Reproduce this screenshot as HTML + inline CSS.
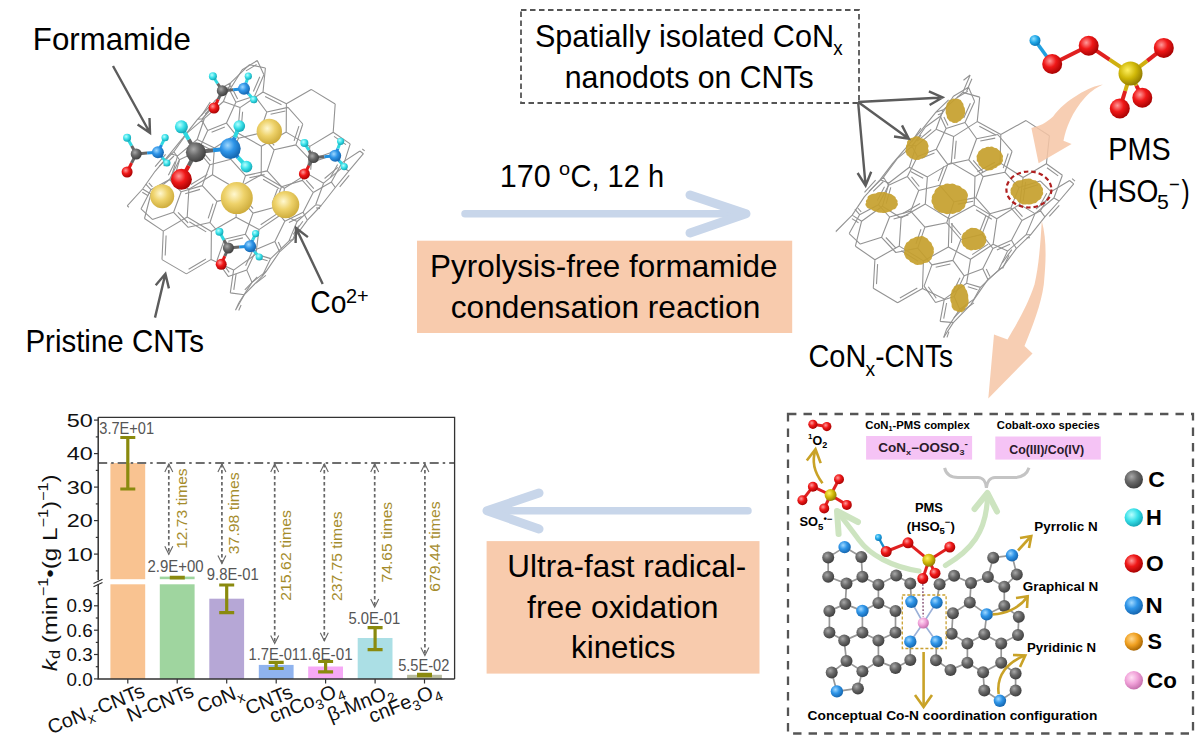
<!DOCTYPE html>
<html><head><meta charset="utf-8"><style>
html,body{margin:0;padding:0;background:#fff;}
svg{display:block;}
text{font-family:"Liberation Sans", sans-serif;}
</style></head><body>
<svg width="1204" height="746" viewBox="0 0 1204 746">
<defs>
<radialGradient id="gC" cx="0.38" cy="0.35" r="0.7"><stop offset="0" stop-color="#a8a8a8"/><stop offset="0.45" stop-color="#6a6a6a"/><stop offset="1" stop-color="#3a3a3a"/></radialGradient>
<radialGradient id="gN" cx="0.38" cy="0.35" r="0.7"><stop offset="0" stop-color="#9fd8ff"/><stop offset="0.45" stop-color="#2f95e8"/><stop offset="1" stop-color="#1260a8"/></radialGradient>
<radialGradient id="gO" cx="0.38" cy="0.35" r="0.7"><stop offset="0" stop-color="#ff9a9a"/><stop offset="0.45" stop-color="#f01818"/><stop offset="1" stop-color="#a00000"/></radialGradient>
<radialGradient id="gS" cx="0.38" cy="0.35" r="0.7"><stop offset="0" stop-color="#fff060"/><stop offset="0.5" stop-color="#d0b808"/><stop offset="1" stop-color="#8a7400"/></radialGradient>
<radialGradient id="gSo" cx="0.38" cy="0.35" r="0.7"><stop offset="0" stop-color="#ffd890"/><stop offset="0.5" stop-color="#f0a020"/><stop offset="1" stop-color="#a06000"/></radialGradient>
<radialGradient id="gH" cx="0.38" cy="0.35" r="0.7"><stop offset="0" stop-color="#b8ffff"/><stop offset="0.5" stop-color="#38e0e8"/><stop offset="1" stop-color="#10a0b0"/></radialGradient>
<radialGradient id="gHb" cx="0.38" cy="0.35" r="0.7"><stop offset="0" stop-color="#90e0ff"/><stop offset="0.5" stop-color="#20a8e8"/><stop offset="1" stop-color="#0870b0"/></radialGradient>
<radialGradient id="gCo" cx="0.38" cy="0.35" r="0.7"><stop offset="0" stop-color="#ffe0f4"/><stop offset="0.5" stop-color="#f0a0d8"/><stop offset="1" stop-color="#c06aa8"/></radialGradient>
<radialGradient id="gAu" cx="0.42" cy="0.38" r="0.68"><stop offset="0" stop-color="#fff8d0"/><stop offset="0.45" stop-color="#eed26a"/><stop offset="1" stop-color="#c9a634"/></radialGradient>
</defs>
<rect width="1204" height="746" fill="#fff"/>
<path d="M159.4,166.1L173.9,151.7M163.7,166.0L173.9,156.0M150.9,189.7L145.8,184.1M152.4,186.9L148.8,182.9M150.9,189.7L141.0,208.9M150.9,189.7L169.6,179.5M152.4,219.4L141.0,208.9M152.4,219.4L173.6,212.3M187.2,132.9L173.9,151.7M187.2,132.9L201.9,120.3M179.4,159.7L173.9,151.7M179.4,159.7L169.6,179.5M175.3,161.4L168.4,175.2M179.4,159.7L198.2,151.0M181.2,191.8L169.6,179.5M181.2,191.8L173.6,212.3M181.2,191.8L202.3,185.6M185.2,193.7L200.0,189.4M188.2,227.3L173.6,212.3M188.2,223.0L178.0,212.4M188.2,227.3L210.0,222.5M214.8,100.8L201.9,120.3M210.3,102.0L201.3,115.8M214.8,100.8L229.6,90.0M207.7,130.6L201.9,120.3M207.7,130.6L198.2,151.0M207.7,130.6L226.5,123.1M211.6,132.3L224.8,127.0M209.9,164.8L198.2,151.0M210.4,160.8L202.2,151.1M209.9,164.8L202.3,185.6M209.9,164.8L230.9,159.3M216.9,201.4L202.3,185.6M216.9,201.4L210.0,222.5M213.0,203.7L208.2,218.4M216.9,201.4L238.6,196.8M224.5,239.2L210.0,222.5M224.5,239.2L217.0,260.5M224.5,239.2L245.3,234.2M228.3,241.3L242.9,237.9M228.4,276.6L217.0,260.5M229.2,272.4L221.1,261.1M228.4,276.6L246.8,270.1M242.2,69.7L229.6,90.0M242.2,69.7L257.3,60.5M246.0,70.9L256.6,64.5M235.9,102.3L229.6,90.0M237.6,99.1L233.3,90.5M235.9,102.3L226.5,123.1M235.9,102.3L254.7,95.9M238.4,138.2L226.5,123.1M238.4,138.2L230.9,159.3M234.4,140.4L229.2,155.1M238.4,138.2L259.5,133.3M245.5,175.6L230.9,159.3M245.5,175.6L238.6,196.8M245.5,175.6L267.2,170.9M249.4,177.8L264.6,174.6M253.0,213.1L238.6,196.8M253.1,208.7L243.0,197.2M253.0,213.1L245.3,234.2M253.0,213.1L273.8,207.5M256.6,249.2L245.3,234.2M256.6,249.2L246.8,270.1M252.4,251.1L245.6,265.7M256.6,249.2L274.9,241.6M252.0,282.4L246.8,270.1M252.0,282.4L238.9,302.7M252.0,282.4L266.2,271.4M256.0,283.1L265.9,275.4M263.9,74.7L257.3,60.5M263.9,74.7L254.7,95.9M259.8,76.7L253.4,91.5M266.8,112.0L254.7,95.9M266.8,112.0L259.5,133.3M266.8,112.0L288.0,107.4M270.6,114.3L285.4,111.0M274.1,149.8L259.5,133.3M274.2,145.3L263.9,133.8M274.1,149.8L267.2,170.9M274.1,149.8L295.9,144.9M281.5,186.7L267.2,170.9M281.5,186.7L273.8,207.5M277.6,188.8L272.1,203.4M281.5,186.7L302.4,180.4M284.8,221.2L273.8,207.5M284.8,221.2L274.9,241.6M284.8,221.2L303.1,212.3M288.9,222.6L301.6,216.4M279.6,251.8L274.9,241.6M281.6,249.0L278.3,241.9M279.6,251.8L266.2,271.4M279.6,251.8L293.6,239.0M302.8,124.0L288.0,107.4M302.8,124.0L295.9,144.9M298.9,126.2L294.1,140.9M310.2,159.9L295.9,144.9M310.2,159.9L302.4,180.4M310.2,159.9L331.1,152.6M314.3,161.6L328.9,156.6M313.2,192.5L302.4,180.4M313.8,188.7L306.2,180.2M313.2,192.5L303.1,212.3M313.2,192.5L331.4,182.1M307.4,220.2L303.1,212.3M307.4,220.2L293.6,239.0M302.9,221.2L293.3,234.4M341.8,162.9L331.1,152.6M341.8,162.9L331.4,182.1M337.6,164.4L330.3,177.8M341.8,162.9L359.9,151.0M335.3,187.5L331.4,182.1M363.4,153.7L359.9,151.0M364.7,150.9L362.3,149.0" fill="none" stroke="#939393" stroke-width="1.1"/>
<path d="M235.5,310.3L238.9,302.7M238.7,310.4L241.1,305.1M235.5,310.3L244.3,294.7M262.1,276.3L266.2,271.4M262.1,276.3L244.3,294.7M257.3,277.0L244.8,289.8M262.1,276.3L270.7,258.6M230.3,292.9L244.3,294.7M230.3,292.9L233.6,270.1M233.8,289.9L236.1,273.9M307.4,220.2L321.2,205.5M288.9,241.1L293.6,239.0M288.9,241.1L270.7,258.6M288.9,241.1L297.1,221.5M292.9,239.3L298.6,225.6M255.9,254.1L270.7,258.6M257.3,257.7L267.6,260.8M255.9,254.1L233.6,270.1M255.9,254.1L259.0,229.6M211.1,259.4L233.6,270.1M211.1,259.4L186.4,273.9M205.9,259.0L188.6,269.2M211.1,259.4L211.4,231.5M162.0,259.6L186.4,273.9M162.0,259.6L163.3,231.1M165.2,255.5L166.1,235.5M335.3,187.5L321.2,205.5M335.3,187.5L348.9,170.9M339.7,186.9L349.2,175.3M315.7,204.8L321.2,205.5M316.2,207.9L320.0,208.4M315.7,204.8L297.1,221.5M315.7,204.8L323.6,183.2M281.6,214.3L297.1,221.5M281.6,214.3L259.0,229.6M276.6,214.1L260.7,224.8M281.6,214.3L284.4,188.3M236.1,217.2L259.0,229.6M236.1,217.2L211.4,231.5M236.1,217.2L236.4,188.8M239.2,213.0L239.4,193.1M187.2,217.0L211.4,231.5M189.3,221.8L206.2,231.9M187.2,217.0L163.3,231.1M187.2,217.0L188.9,189.3M144.5,218.5L163.3,231.1M144.5,218.5L150.9,194.0M363.4,153.7L348.9,170.9M342.7,167.4L348.9,170.9M342.7,167.4L323.6,183.2M337.9,167.4L324.6,178.5M342.7,167.4L350.2,143.9M307.4,173.6L323.6,183.2M307.4,173.6L284.4,188.3M307.4,173.6L309.8,146.4M310.7,169.8L312.4,150.8M261.2,174.7L284.4,188.3M263.1,179.3L279.4,188.8M261.2,174.7L236.4,188.8M261.2,174.7L261.4,146.2M212.5,174.8L236.4,188.8M212.5,174.8L188.9,189.3M207.4,174.4L190.9,184.5M212.5,174.8L214.4,148.0M170.9,178.5L188.9,189.3M170.9,178.5L150.9,194.0M170.9,178.5L177.6,155.8M174.8,176.0L179.5,160.1M142.6,189.0L150.9,194.0M142.3,192.3L148.1,195.8M142.6,189.0L127.2,205.9M142.6,189.0L155.1,171.3M128.9,207.2L127.2,205.9M333.2,132.2L350.2,143.9M334.0,136.4L346.0,144.6M333.2,132.2L309.8,146.4M333.2,132.2L335.2,104.0M286.2,132.1L309.8,146.4M286.2,132.1L261.4,146.2M281.0,131.6L263.6,141.5M286.2,132.1L286.4,103.8M237.7,133.1L261.4,146.2M237.7,133.1L214.4,148.0M237.7,133.1L240.0,107.6M241.1,129.5L242.6,111.7M197.2,139.5L214.4,148.0M198.4,143.5L210.5,149.4M197.2,139.5L177.6,155.8M197.2,139.5L204.3,118.7M170.1,153.6L177.6,155.8M170.1,153.6L155.1,171.3M165.6,154.3L155.1,166.7M170.1,153.6L182.9,137.9M311.2,89.4L335.2,104.0M311.2,89.4L286.4,103.8M263.0,92.0L286.4,103.8M265.1,96.4L281.5,104.7M263.0,92.0L240.0,107.6M263.0,92.0L265.4,68.0M223.4,101.5L240.0,107.6M223.4,101.5L204.3,118.7M218.5,101.9L205.1,113.9M223.4,101.5L230.8,82.7M197.5,119.3L204.3,118.7M197.5,119.3L182.9,137.9M197.5,119.3L210.5,105.5M201.6,119.3L210.7,109.6M249.5,64.7L265.4,68.0M249.5,64.7L230.8,82.7M224.7,86.2L230.8,82.7M227.1,88.2L231.4,85.8" fill="none" stroke="#939393" stroke-width="1.1"/>
<path d="M868.9,191.4L883.5,177.2M873.2,191.4L883.4,181.5M859.6,214.7L854.9,209.2M861.2,211.9L857.8,208.0M859.6,214.7L849.2,233.6M859.6,214.7L878.4,204.7M860.3,244.1L849.2,233.6M860.3,244.1L881.6,237.3M897.2,158.6L883.5,177.2M897.2,158.6L912.0,146.3M888.6,185.2L883.5,177.2M888.6,185.2L878.4,204.7M884.5,186.7L877.3,200.4M888.6,185.2L907.4,176.6M889.6,217.0L878.4,204.7M889.6,217.0L881.6,237.3M889.6,217.0L910.7,211.1M893.6,219.0L908.4,214.9M895.8,252.5L881.6,237.3M895.9,248.2L885.9,237.5M895.8,252.5L917.7,248.1M925.4,127.0L912.0,146.3M920.9,128.1L911.6,141.7M925.4,127.0L940.3,116.3M917.5,156.5L912.0,146.3M917.5,156.5L907.4,176.6M917.5,156.5L936.3,149.2M921.4,158.2L934.5,153.1M918.7,190.5L907.4,176.6M919.3,186.5L911.5,176.8M918.7,190.5L910.7,211.1M918.7,190.5L939.8,185.3M924.9,227.1L910.7,211.1M924.9,227.1L917.7,248.1M921.0,229.3L915.9,243.9M924.9,227.1L946.7,222.8M931.9,264.9L917.7,248.1M931.9,264.9L924.1,286.1M931.9,264.9L952.9,260.4M935.7,267.2L950.4,264.0M935.5,302.5L924.1,286.1M936.3,298.3L928.3,286.8M935.5,302.5L954.2,296.6M953.4,96.3L940.3,116.3M953.4,96.3L968.5,87.3M957.2,97.5L967.7,91.2M946.1,128.6L940.3,116.3M948.0,125.5L943.9,116.9M946.1,128.6L936.3,149.2M946.1,128.6L965.0,122.5M947.7,164.4L936.3,149.2M947.7,164.4L939.8,185.3M943.7,166.5L938.2,181.1M947.7,164.4L968.8,159.8M954.0,201.8L939.8,185.3M954.0,201.8L946.7,222.8M954.0,201.8L975.8,197.6M957.8,204.1L973.1,201.2M960.9,239.5L946.7,222.8M961.0,235.0L951.1,223.4M960.9,239.5L952.9,260.4M960.9,239.5L981.9,234.4M964.2,275.8L952.9,260.4M964.2,275.8L954.2,296.6M960.0,277.7L953.0,292.2M964.2,275.8L982.8,268.8M959.7,309.3L954.2,296.6M959.7,309.3L946.5,329.4M959.7,309.3L974.4,298.9M963.6,310.2L974.0,302.9M943.7,337.5L946.5,329.4M947.0,337.3L948.9,331.6M974.6,101.4L968.5,87.3M974.6,101.4L965.0,122.5M970.4,103.3L963.7,118.1M976.6,138.7L965.0,122.5M976.6,138.7L968.8,159.8M976.6,138.7L997.7,134.5M980.3,141.0L995.2,138.1M983.1,176.6L968.8,159.8M983.2,172.1L973.2,160.4M983.1,176.6L975.8,197.6M983.1,176.6L1004.9,172.2M989.9,213.7L975.8,197.6M989.9,213.7L981.9,234.4M985.9,215.7L980.3,230.2M989.9,213.7L1010.9,207.9M992.9,248.5L981.9,234.4M992.9,248.5L982.8,268.8M992.9,248.5L1011.5,240.2M996.9,250.0L1010.0,244.2M987.9,279.4L982.8,268.8M989.9,276.5L986.3,269.1M987.9,279.4L974.4,298.9M987.9,279.4L1002.5,267.4M1012.1,151.3L997.7,134.5M1012.1,151.3L1004.9,172.2M1008.2,153.5L1003.2,168.1M1019.0,187.6L1004.9,172.2M1019.0,187.6L1010.9,207.9M1019.0,187.6L1040.1,180.9M1023.1,189.4L1037.9,184.8M1021.9,220.5L1010.9,207.9M1022.5,216.7L1014.8,207.9M1021.9,220.5L1011.5,240.2M1021.9,220.5L1040.5,210.8M1016.3,248.6L1011.5,240.2M1016.3,248.6L1002.5,267.4M1011.8,249.7L1002.2,262.8M1016.3,248.6L1030.8,234.7M1051.0,191.7L1040.1,180.9M1051.0,191.7L1040.5,210.8M1046.8,193.2L1039.4,206.5M1051.0,191.7L1069.6,180.5M1044.9,216.8L1040.5,210.8M1073.7,183.9L1069.6,180.5M1075.0,181.1L1072.1,178.7" fill="none" stroke="#939393" stroke-width="1.1"/>
<path d="M943.7,337.5L953.3,322.6M971.0,304.4L974.4,298.9M971.0,304.4L953.3,322.6M966.2,305.0L953.8,317.8M971.0,304.4L980.4,287.4M940.1,321.4L953.3,322.6M940.1,321.4L944.3,299.1M943.7,318.6L946.6,303.0M998.5,270.1L1002.5,267.4M998.5,270.1L980.4,287.4M998.5,270.1L1007.6,251.1M1002.6,268.5L1009.0,255.2M966.6,283.3L980.4,287.4M967.8,286.8L977.5,289.7M966.6,283.3L944.3,299.1M966.6,283.3L970.5,259.3M922.5,288.6L944.3,299.1M922.5,288.6L897.6,302.8M917.3,288.1L899.9,298.1M922.5,288.6L923.4,260.9M873.3,288.3L897.6,302.8M873.3,288.3L874.9,259.7M876.5,284.1L877.6,264.1M1044.9,216.8L1030.8,234.7M1044.9,216.8L1059.2,201.0M1049.3,216.4L1059.3,205.3M1026.2,234.6L1030.8,234.7M1026.8,237.6L1030.0,237.7M1026.2,234.6L1007.6,251.1M1026.2,234.6L1035.0,213.6M993.1,244.3L1007.6,251.1M993.1,244.3L970.5,259.3M988.1,244.1L972.2,254.6M993.1,244.3L996.8,218.8M948.4,247.0L970.5,259.3M948.4,247.0L923.4,260.9M948.4,247.0L949.2,218.8M951.5,242.9L952.1,223.1M899.3,246.1L923.4,260.9M901.3,250.8L918.2,261.2M899.3,246.1L874.9,259.7M899.3,246.1L901.1,218.0M855.4,246.2L874.9,259.7M855.4,246.2L861.6,221.2M1073.7,183.9L1059.2,201.0M1053.9,198.0L1059.2,201.0M1053.9,198.0L1035.0,213.6M1049.2,198.0L1035.9,209.0M1053.9,198.0L1062.4,175.2M1019.7,204.4L1035.0,213.6M1019.7,204.4L996.8,218.8M1019.7,204.4L1023.1,177.5M1023.2,200.7L1025.6,181.9M974.2,205.1L996.8,218.8M976.1,209.7L991.8,219.3M974.2,205.1L949.2,218.8M974.2,205.1L975.0,176.5M925.3,204.1L949.2,218.8M925.3,204.1L901.1,218.0M920.1,203.6L903.2,213.3M925.3,204.1L927.4,176.9M882.4,206.3L901.1,218.0M882.4,206.3L861.6,221.2M882.4,206.3L888.9,183.0M886.2,203.6L890.8,187.3M852.2,215.1L861.6,221.2M851.9,218.6L858.5,222.8M852.2,215.1L835.9,231.5M852.2,215.1L864.3,196.9M836.4,231.9L835.9,231.5M1046.4,163.7L1062.4,175.2M1047.0,167.8L1058.2,175.9M1046.4,163.7L1023.1,177.5M1046.4,163.7L1049.4,135.8M1000.1,162.9L1023.1,177.5M1000.1,162.9L975.0,176.5M994.9,162.3L977.4,171.8M1000.1,162.9L1000.8,134.4M951.3,162.6L975.0,176.5M951.3,162.6L927.4,176.9M951.3,162.6L953.6,136.6M954.6,158.9L956.2,140.8M909.3,167.3L927.4,176.9M910.6,171.4L923.2,178.2M909.3,167.3L888.9,183.0M909.3,167.3L916.1,145.9M880.2,179.7L888.9,183.0M880.2,179.7L864.3,196.9M875.6,180.2L864.5,192.3M880.2,179.7L892.6,163.4M1026.0,120.6L1049.4,135.8M1026.0,120.6L1000.8,134.4M977.2,121.6L1000.8,134.4M979.3,126.2L995.9,135.1M977.2,121.6L953.6,136.6M977.2,121.6L979.7,97.1M936.1,129.3L953.6,136.6M936.1,129.3L916.1,145.9M931.2,129.5L917.2,141.1M936.1,129.3L943.2,109.8M908.1,145.4L916.1,145.9M908.1,145.4L892.6,163.4M908.1,145.4L920.7,131.1M912.3,145.2L921.1,135.2M962.8,92.4L979.7,97.1M962.8,92.4L943.2,109.8M962.8,92.4L970.2,75.0M966.7,91.0L971.9,78.8M935.9,112.2L943.2,109.8M937.9,114.7L943.0,113.1M935.9,112.2L920.7,131.1M935.9,112.2L948.6,99.8M963.5,80.2L970.2,75.0" fill="none" stroke="#939393" stroke-width="1.1"/>
<circle cx="269.3" cy="131.5" r="12.7" fill="url(#gAu)"/>
<circle cx="162.2" cy="196.3" r="12" fill="url(#gAu)"/>
<circle cx="236.8" cy="198.1" r="16" fill="url(#gAu)"/>
<circle cx="285.6" cy="204.6" r="13.7" fill="url(#gAu)"/>
<path d="M222.3,90.7L218.2,99.3" stroke="#666" stroke-width="3"/>
<path d="M218.2,99.3L214.0,108.0" stroke="#e01818" stroke-width="3"/>
<path d="M222.3,90.7L233.2,89.8" stroke="#666" stroke-width="3"/>
<path d="M233.2,89.8L244.0,88.8" stroke="#2090e0" stroke-width="3"/>
<path d="M222.3,90.7L217.6,83.5" stroke="#666" stroke-width="3"/>
<path d="M217.6,83.5L212.9,76.2" stroke="#30d8e0" stroke-width="3"/>
<path d="M244.0,88.8L246.2,82.5" stroke="#2090e0" stroke-width="3"/>
<path d="M246.2,82.5L248.3,76.2" stroke="#30d8e0" stroke-width="3"/>
<path d="M244.0,88.8L248.9,94.2" stroke="#2090e0" stroke-width="3"/>
<path d="M248.9,94.2L253.8,99.7" stroke="#30d8e0" stroke-width="3"/>
<circle cx="212.9" cy="76.2" r="4" fill="url(#gH)"/>
<circle cx="248.3" cy="76.2" r="3.6" fill="url(#gH)"/>
<circle cx="253.8" cy="99.7" r="3.6" fill="url(#gH)"/>
<circle cx="214.0" cy="108.0" r="5.5" fill="url(#gO)"/>
<circle cx="222.3" cy="90.7" r="5.5" fill="url(#gC)"/>
<circle cx="244.0" cy="88.8" r="6" fill="url(#gN)"/>
<path d="M136.2,154.0L131.6,163.0" stroke="#666" stroke-width="3"/>
<path d="M131.6,163.0L127.1,172.0" stroke="#e01818" stroke-width="3"/>
<path d="M136.2,154.0L147.1,153.1" stroke="#666" stroke-width="3"/>
<path d="M147.1,153.1L157.9,152.2" stroke="#2090e0" stroke-width="3"/>
<path d="M136.2,154.0L131.6,145.8" stroke="#666" stroke-width="3"/>
<path d="M131.6,145.8L127.1,137.7" stroke="#30d8e0" stroke-width="3"/>
<path d="M157.9,152.2L161.5,144.9" stroke="#2090e0" stroke-width="3"/>
<path d="M161.5,144.9L165.1,137.7" stroke="#30d8e0" stroke-width="3"/>
<path d="M157.9,152.2L162.4,157.6" stroke="#2090e0" stroke-width="3"/>
<path d="M162.4,157.6L166.9,163.0" stroke="#30d8e0" stroke-width="3"/>
<circle cx="127.1" cy="137.7" r="4" fill="url(#gH)"/>
<circle cx="165.1" cy="137.7" r="3.6" fill="url(#gH)"/>
<circle cx="166.9" cy="163.0" r="3.6" fill="url(#gH)"/>
<circle cx="127.1" cy="172.0" r="5.5" fill="url(#gO)"/>
<circle cx="136.2" cy="154.0" r="5.5" fill="url(#gC)"/>
<circle cx="157.9" cy="152.2" r="6" fill="url(#gN)"/>
<path d="M195.9,152.2L188.7,165.8" stroke="#666" stroke-width="4"/>
<path d="M188.7,165.8L181.4,179.3" stroke="#e01818" stroke-width="4"/>
<path d="M195.9,152.2L213.1,150.3" stroke="#666" stroke-width="4"/>
<path d="M213.1,150.3L230.2,148.5" stroke="#2090e0" stroke-width="4"/>
<path d="M195.9,152.2L188.7,139.5" stroke="#666" stroke-width="4"/>
<path d="M188.7,139.5L181.4,126.8" stroke="#30d8e0" stroke-width="4"/>
<path d="M230.2,148.5L234.8,137.3" stroke="#2090e0" stroke-width="4"/>
<path d="M234.8,137.3L239.3,126.1" stroke="#30d8e0" stroke-width="4"/>
<path d="M230.2,148.5L238.3,157.6" stroke="#2090e0" stroke-width="4"/>
<path d="M238.3,157.6L246.5,166.6" stroke="#30d8e0" stroke-width="4"/>
<circle cx="181.4" cy="126.8" r="6.5" fill="url(#gH)"/>
<circle cx="239.3" cy="126.1" r="5.8500000000000005" fill="url(#gH)"/>
<circle cx="246.5" cy="166.6" r="5.8500000000000005" fill="url(#gH)"/>
<circle cx="181.4" cy="179.3" r="10.5" fill="url(#gO)"/>
<circle cx="195.9" cy="152.2" r="10" fill="url(#gC)"/>
<circle cx="230.2" cy="148.5" r="10.5" fill="url(#gN)"/>
<path d="M313.5,157.6L308.9,165.8" stroke="#666" stroke-width="3"/>
<path d="M308.9,165.8L304.4,173.9" stroke="#e01818" stroke-width="3"/>
<path d="M313.5,157.6L324.4,156.7" stroke="#666" stroke-width="3"/>
<path d="M324.4,156.7L335.2,155.8" stroke="#2090e0" stroke-width="3"/>
<path d="M313.5,157.6L308.9,150.3" stroke="#666" stroke-width="3"/>
<path d="M308.9,150.3L304.4,143.1" stroke="#30d8e0" stroke-width="3"/>
<path d="M335.2,155.8L337.9,148.6" stroke="#2090e0" stroke-width="3"/>
<path d="M337.9,148.6L340.6,141.3" stroke="#30d8e0" stroke-width="3"/>
<path d="M335.2,155.8L339.7,161.2" stroke="#2090e0" stroke-width="3"/>
<path d="M339.7,161.2L344.2,166.6" stroke="#30d8e0" stroke-width="3"/>
<circle cx="304.4" cy="143.1" r="4" fill="url(#gH)"/>
<circle cx="340.6" cy="141.3" r="3.6" fill="url(#gH)"/>
<circle cx="344.2" cy="166.6" r="3.6" fill="url(#gH)"/>
<circle cx="304.4" cy="173.9" r="5.5" fill="url(#gO)"/>
<circle cx="313.5" cy="157.6" r="5.5" fill="url(#gC)"/>
<circle cx="335.2" cy="155.8" r="6" fill="url(#gN)"/>
<path d="M228.4,248.0L224.8,256.1" stroke="#666" stroke-width="3"/>
<path d="M224.8,256.1L221.2,264.3" stroke="#e01818" stroke-width="3"/>
<path d="M228.4,248.0L239.2,247.1" stroke="#666" stroke-width="3"/>
<path d="M239.2,247.1L250.1,246.2" stroke="#2090e0" stroke-width="3"/>
<path d="M228.4,248.0L223.9,239.9" stroke="#666" stroke-width="3"/>
<path d="M223.9,239.9L219.4,231.8" stroke="#30d8e0" stroke-width="3"/>
<path d="M250.1,246.2L252.8,239.9" stroke="#2090e0" stroke-width="3"/>
<path d="M252.8,239.9L255.6,233.6" stroke="#30d8e0" stroke-width="3"/>
<path d="M250.1,246.2L254.6,251.6" stroke="#2090e0" stroke-width="3"/>
<path d="M254.6,251.6L259.2,257.0" stroke="#30d8e0" stroke-width="3"/>
<circle cx="219.4" cy="231.8" r="4" fill="url(#gH)"/>
<circle cx="255.6" cy="233.6" r="3.6" fill="url(#gH)"/>
<circle cx="259.2" cy="257.0" r="3.6" fill="url(#gH)"/>
<circle cx="221.2" cy="264.3" r="5.5" fill="url(#gO)"/>
<circle cx="228.4" cy="248.0" r="5.5" fill="url(#gC)"/>
<circle cx="250.1" cy="246.2" r="6" fill="url(#gN)"/>
<path d="M965.1,110.7Q965.8,113.4 964.2,115.4Q964.0,118.1 961.9,119.1Q960.9,121.4 958.7,121.5Q957.2,123.5 955.2,122.7Q953.2,123.6 951.6,121.7Q949.3,121.8 948.3,119.5Q946.5,118.1 946.6,115.2Q945.1,113.2 945.7,110.7Q944.9,108.1 946.3,106.1Q946.3,103.1 948.2,101.8Q949.2,99.5 951.6,99.6Q953.2,97.9 955.2,99.0Q957.3,97.8 958.9,99.3Q961.1,99.5 962.0,102.1Q963.8,103.4 963.7,106.2Q965.5,108.2 965.1,110.7Z" fill="#c6a02c" fill-opacity="0.92"/>
<path d="M928.0,148.2Q929.4,150.8 928.1,152.8Q927.9,155.5 925.4,156.6Q924.1,158.7 921.3,158.5Q919.4,160.4 917.0,159.7Q914.6,160.6 912.6,158.8Q909.9,158.8 908.7,156.5Q906.2,155.4 906.0,152.8Q904.7,150.7 906.1,148.2Q905.3,145.9 907.0,144.0Q906.6,141.1 908.5,139.7Q909.8,137.6 912.6,137.7Q914.6,135.7 917.0,136.3Q919.3,136.0 921.1,138.2Q923.8,138.1 925.1,140.1Q927.6,141.1 927.9,143.7Q929.3,145.7 928.0,148.2Z" fill="#c6a02c" fill-opacity="0.92"/>
<path d="M1002.7,158.3Q1003.7,160.9 1001.7,162.9Q1001.0,165.2 997.9,166.0Q996.7,168.3 994.0,168.4Q992.0,170.7 989.5,170.3Q986.7,171.1 984.6,169.2Q981.7,169.1 980.5,166.6Q978.1,165.4 978.2,162.6Q976.1,160.7 976.8,158.3Q975.9,155.8 977.8,153.8Q978.0,151.2 980.6,150.1Q981.9,148.0 984.9,148.1Q986.9,146.2 989.5,146.9Q992.1,146.0 994.2,147.8Q997.2,147.8 998.6,150.0Q1001.4,151.0 1001.7,153.6Q1003.7,155.7 1002.7,158.3Z" fill="#c6a02c" fill-opacity="0.92"/>
<path d="M897.3,202.6Q898.8,204.8 896.7,206.4Q896.4,208.7 892.9,209.6Q891.5,211.7 888.0,212.0Q885.3,213.5 881.8,212.8Q878.5,213.2 876.0,211.4Q872.6,211.2 871.1,209.3Q867.2,208.6 866.4,206.6Q864.5,204.8 866.3,202.6Q865.1,200.5 867.5,198.9Q867.1,196.3 869.8,195.1Q871.7,193.2 875.7,193.4Q878.4,191.6 881.8,192.2Q885.2,191.6 887.9,193.4Q891.7,193.4 893.3,195.4Q896.2,196.5 896.0,198.9Q898.4,200.5 897.3,202.6Z" fill="#c6a02c" fill-opacity="0.92"/>
<path d="M966.9,198.8Q968.1,202.0 965.4,204.4Q965.5,208.0 962.2,209.6Q960.4,212.5 956.4,212.5Q953.6,214.7 950.0,213.5Q946.3,215.0 943.4,213.0Q939.0,213.2 937.0,210.3Q933.3,208.7 933.2,204.9Q930.5,202.2 931.9,198.8Q931.1,195.6 934.4,193.1Q934.3,189.4 937.6,187.8Q939.4,184.8 943.5,184.9Q946.4,182.7 950.0,183.9Q953.6,182.8 956.4,185.2Q960.3,185.2 962.0,188.2Q966.2,189.4 967.0,192.6Q969.0,195.3 966.9,198.8Z" fill="#c6a02c" fill-opacity="0.92"/>
<path d="M1042.7,191.3Q1044.1,194.1 1041.7,196.2Q1041.6,199.2 1038.3,200.5Q1036.9,203.2 1033.2,203.5Q1030.5,205.3 1027.0,204.2Q1023.5,205.3 1020.8,203.4Q1017.7,202.8 1016.7,199.6Q1013.2,198.6 1012.7,196.1Q1009.9,194.0 1010.7,191.3Q1009.7,188.6 1012.4,186.4Q1012.4,183.4 1015.5,182.0Q1017.4,179.9 1021.3,180.3Q1023.8,178.2 1027.0,178.8Q1030.2,178.1 1032.8,180.1Q1036.4,180.1 1038.0,182.4Q1041.3,183.6 1041.4,186.5Q1043.9,188.6 1042.7,191.3Z" fill="#c6a02c" fill-opacity="0.92"/>
<path d="M986.1,239.4Q987.1,241.8 985.2,243.8Q984.9,246.2 982.2,247.2Q980.9,249.3 978.2,249.3Q976.2,250.7 973.7,249.7Q971.1,251.0 969.0,249.8Q966.3,249.5 965.2,247.2Q962.6,246.2 962.3,243.7Q960.7,241.8 961.9,239.4Q960.7,237.0 962.3,235.1Q962.7,232.7 965.4,231.8Q966.4,229.3 968.9,228.9Q971.0,227.2 973.7,228.1Q976.2,227.4 978.2,229.3Q981.0,229.4 982.2,231.6Q984.8,232.6 985.0,235.1Q987.0,237.0 986.1,239.4Z" fill="#c6a02c" fill-opacity="0.92"/>
<path d="M933.6,250.6Q934.6,253.5 932.2,255.7Q932.4,259.1 929.7,260.7Q928.0,263.1 924.3,262.9Q921.9,265.3 918.9,264.7Q915.7,265.6 913.3,263.3Q910.1,263.0 908.9,260.0Q905.5,258.9 905.0,256.0Q903.2,253.6 904.7,250.6Q903.3,247.6 905.2,245.3Q905.6,242.4 908.8,241.2Q910.2,238.5 913.4,238.3Q915.8,235.9 918.9,236.7Q922.2,235.3 924.9,237.2Q927.9,237.8 929.0,241.1Q932.1,242.4 932.3,245.4Q934.6,247.7 933.6,250.6Z" fill="#c6a02c" fill-opacity="0.92"/>
<path d="M968.2,298.3Q969.3,301.5 968.3,304.0Q967.8,306.8 965.6,307.8Q964.9,311.0 963.0,311.6Q961.5,313.2 959.5,311.6Q957.6,312.8 956.2,310.8Q953.9,311.2 952.8,308.8Q951.2,307.1 951.5,303.5Q949.9,301.2 950.3,298.3Q949.7,295.3 951.2,293.0Q951.3,289.8 953.2,288.5Q954.0,285.5 956.1,285.4Q957.6,283.5 959.5,284.8Q961.5,283.2 963.1,284.9Q964.9,285.5 965.6,288.9Q967.4,290.1 967.5,293.1Q968.9,295.4 968.2,298.3Z" fill="#c6a02c" fill-opacity="0.92"/>
<ellipse cx="1028.9" cy="189.5" rx="22.5" ry="18" fill="none" stroke="#b02020" stroke-width="2.2" stroke-dasharray="4.5,3"/>
<path d="M1102.9,84.5 C1090,86 1065,100 1053.1,116.6 C1045,124 1040,126 1031.4,127.9 L1038.6,163.3 L1071.6,144 L1063.5,140.8 C1066,128 1072,112 1085.3,97.3 C1092,90 1098,87 1102.9,84.5 Z" fill="#f6c6a6" fill-opacity="0.85"/>
<path d="M1041.8,221.1 C1047,240 1046,262 1043.8,284.5 C1041,305 1033,325 1024.5,346 L1032.5,353.5 L988.3,398.6 L994,334.6 L1007.5,339.5 C1016,325 1028,305 1034.5,284.5 C1039,265 1040.5,242 1041.8,221.1 Z" fill="#f6c6a6" fill-opacity="0.85"/>
<path d="M1035,40.4L1052.2,64" stroke="#20a0e0" stroke-width="3.5"/>
<path d="M1052.2,64L1088.7,45.7" stroke="#e02020" stroke-width="4"/>
<path d="M1088.7,45.7L1109.6,59.6" stroke="#e02020" stroke-width="4"/>
<path d="M1109.6,59.6L1130.5,73.6" stroke="#d0b010" stroke-width="4"/>
<path d="M1130.5,73.6L1147.2,60.8" stroke="#d0b010" stroke-width="4"/>
<path d="M1147.2,60.8L1163.8,47.9" stroke="#e02020" stroke-width="4"/>
<path d="M1130.5,73.6L1125.2,91.0" stroke="#d0b010" stroke-width="4"/>
<path d="M1125.2,91.0L1119.8,108.5" stroke="#e02020" stroke-width="4"/>
<path d="M1130.5,73.6L1136.4,85.7" stroke="#d0b010" stroke-width="4"/>
<path d="M1136.4,85.7L1142.3,97.7" stroke="#e02020" stroke-width="4"/>
<circle cx="1035.0" cy="40.4" r="5.5" fill="url(#gHb)"/>
<circle cx="1052.2" cy="64.0" r="10" fill="url(#gO)"/>
<circle cx="1088.7" cy="45.7" r="10" fill="url(#gO)"/>
<circle cx="1163.8" cy="47.9" r="10" fill="url(#gO)"/>
<circle cx="1119.8" cy="108.5" r="10" fill="url(#gO)"/>
<circle cx="1142.3" cy="97.7" r="10" fill="url(#gO)"/>
<circle cx="1130.5" cy="73.6" r="12" fill="url(#gS)"/>
<rect x="417" y="240.7" width="375.2" height="92.3" fill="#f8cbad"/>
<rect x="486.6" y="541.1" width="272.9" height="132.5" fill="#f8cbad"/>
<rect x="521" y="10" width="338" height="93" fill="none" stroke="#555" stroke-width="1.8" stroke-dasharray="5.5,3.5"/>
<rect x="788" y="414" width="405" height="319.5" fill="none" stroke="#555" stroke-width="2.3" stroke-dasharray="8.4,7.1"/>
<path d="M465,213.8 L745,213.8" stroke="#c8d6ea" stroke-width="7.5" stroke-linecap="round"/>
<path d="M690,195 L746,213.8 L690,233" fill="none" stroke="#c8d6ea" stroke-width="9" stroke-linecap="round" stroke-linejoin="round"/>
<path d="M487,510.8 L748,510.8" stroke="#c8d6ea" stroke-width="7.5" stroke-linecap="round"/>
<path d="M539,493 L487,510.8 L539,529" fill="none" stroke="#c8d6ea" stroke-width="9" stroke-linecap="round" stroke-linejoin="round"/>
<text x="32.8" y="50.0" font-size="30.5" fill="#000" font-weight="normal" textLength="158.0" lengthAdjust="spacingAndGlyphs" >Formamide</text>
<text x="25.4" y="351.5" font-size="30.5" fill="#000" font-weight="normal" textLength="178.6" lengthAdjust="spacingAndGlyphs" >Pristine CNTs</text>
<text x="310.2" y="312.9" font-size="30.5" fill="#000" font-weight="normal" textLength="36.2" lengthAdjust="spacingAndGlyphs" >Co</text>
<text x="346.0" y="302.6" font-size="19.5" fill="#000" font-weight="normal" textLength="22.7" lengthAdjust="spacingAndGlyphs" >2+</text>
<text x="534.9" y="47.0" font-size="30.5" fill="#000" font-weight="normal" textLength="299.1" lengthAdjust="spacingAndGlyphs" >Spatially isolated CoN</text>
<text x="833.3" y="55.3" font-size="19.5" fill="#000" font-weight="normal" textLength="9.4" lengthAdjust="spacingAndGlyphs" >x</text>
<text x="564.8" y="88.2" font-size="30.5" fill="#000" font-weight="normal" textLength="248.9" lengthAdjust="spacingAndGlyphs" >nanodots on CNTs</text>
<text x="499.7" y="186.6" font-size="30.5" fill="#000" font-weight="normal" textLength="51.0" lengthAdjust="spacingAndGlyphs" >170</text>
<text x="558.9" y="175.3" font-size="18" fill="#000" font-weight="normal" textLength="11.1" lengthAdjust="spacingAndGlyphs" >o</text>
<text x="570.5" y="186.6" font-size="30.5" fill="#000" font-weight="normal" textLength="93.6" lengthAdjust="spacingAndGlyphs" >C, 12 h</text>
<text x="430.1" y="277.3" font-size="30.5" fill="#000" font-weight="normal" textLength="347.3" lengthAdjust="spacingAndGlyphs" >Pyrolysis-free formamide</text>
<text x="450.8" y="318.4" font-size="30.5" fill="#000" font-weight="normal" textLength="309.5" lengthAdjust="spacingAndGlyphs" >condensation reaction</text>
<text x="1108.3" y="160.2" font-size="30.5" fill="#000" font-weight="normal" textLength="62.3" lengthAdjust="spacingAndGlyphs" >PMS</text>
<text x="1088.1" y="201.5" font-size="30.5" fill="#000" font-weight="normal" textLength="70.3" lengthAdjust="spacingAndGlyphs" >(HSO</text>
<text x="1157.0" y="208.5" font-size="19.5" fill="#000" font-weight="normal" textLength="11.8" lengthAdjust="spacingAndGlyphs" >5</text>
<text x="1169.1" y="191.0" font-size="19.5" fill="#000" font-weight="normal" textLength="10.8" lengthAdjust="spacingAndGlyphs" >−</text>
<text x="1181.4" y="201.5" font-size="30.5" fill="#000" font-weight="normal" textLength="8.2" lengthAdjust="spacingAndGlyphs" >)</text>
<text x="808.5" y="366.5" font-size="30.5" fill="#000" font-weight="normal" textLength="57.8" lengthAdjust="spacingAndGlyphs" >CoN</text>
<text x="865.4" y="375.6" font-size="19.5" fill="#000" font-weight="normal" textLength="9.6" lengthAdjust="spacingAndGlyphs" >x</text>
<text x="875.3" y="366.5" font-size="30.5" fill="#000" font-weight="normal" textLength="77.7" lengthAdjust="spacingAndGlyphs" >-CNTs</text>
<text x="507.3" y="577.0" font-size="30.5" fill="#000" font-weight="normal" textLength="238.9" lengthAdjust="spacingAndGlyphs" >Ultra-fast radical-</text>
<text x="527.1" y="618.0" font-size="30.5" fill="#000" font-weight="normal" textLength="191.5" lengthAdjust="spacingAndGlyphs" >free oxidation</text>
<text x="571.1" y="658.3" font-size="30.5" fill="#000" font-weight="normal" textLength="104.3" lengthAdjust="spacingAndGlyphs" >kinetics</text>
<path d="M113.0,66.0 L150.0,133.0 M137.6,124.6 L150.0,133.0 L149.5,118.0" fill="none" stroke="#5c5c5c" stroke-width="2.4" stroke-linejoin="miter"/>
<path d="M155.0,317.6 L165.4,273.8 M168.9,288.4 L165.4,273.8 L155.7,285.2" fill="none" stroke="#5c5c5c" stroke-width="2.4" stroke-linejoin="miter"/>
<path d="M322.7,284.0 L296.0,228.0 M307.9,237.1 L296.0,228.0 L295.6,243.0" fill="none" stroke="#5c5c5c" stroke-width="2.4" stroke-linejoin="miter"/>
<path d="M858.1,102.0 L942.6,97.5 M929.6,105.0 L942.6,97.5 L928.9,91.4" fill="none" stroke="#5c5c5c" stroke-width="2.4" stroke-linejoin="miter"/>
<path d="M858.1,102.0 L908.8,138.8 M894.0,136.5 L908.8,138.8 L902.0,125.4" fill="none" stroke="#5c5c5c" stroke-width="2.4" stroke-linejoin="miter"/>
<path d="M858.1,102.0 L865.6,185.7 M857.6,173.0 L865.6,185.7 L871.2,171.8" fill="none" stroke="#5c5c5c" stroke-width="2.4" stroke-linejoin="miter"/>
<rect x="110.4" y="463" width="34.8" height="116.2" fill="#f9c391"/>
<rect x="110.4" y="584.3" width="34.8" height="94.7" fill="#f9c391"/>
<rect x="159.8" y="576.6" width="34.8" height="2.6" fill="#9fd59f"/>
<rect x="159.8" y="584.3" width="34.8" height="94.7" fill="#9fd59f"/>
<rect x="209.3" y="598.7" width="34.8" height="80.3" fill="#b6a7d6"/>
<rect x="258.8" y="664.9" width="34.8" height="14.1" fill="#8fb3ee"/>
<rect x="308.2" y="666.5" width="34.8" height="12.5" fill="#f6a9f6"/>
<rect x="357.7" y="638.0" width="34.8" height="41.0" fill="#abdfe5"/>
<rect x="407.1" y="674.8" width="34.8" height="4.2" fill="#b9bc9f"/>
<path d="M98.2,463 L454.6,463" stroke="#6e6e6e" stroke-width="2" stroke-dasharray="9,4,2.5,4"/>
<path d="M127.8,437.5 L127.8,489 M120.3,437.5 L135.3,437.5 M120.3,489 L135.3,489" stroke="#8a8a0e" stroke-width="3.2" fill="none"/>
<path d="M177.2,577.3 L177.2,577.9 M169.8,577.3 L184.8,577.3 M169.8,577.9 L184.8,577.9" stroke="#8a8a0e" stroke-width="3.2" fill="none"/>
<path d="M226.7,585 L226.7,612.6 M219.2,585 L234.2,585 M219.2,612.6 L234.2,612.6" stroke="#8a8a0e" stroke-width="3.2" fill="none"/>
<path d="M276.2,662.4 L276.2,668.5 M268.7,662.4 L283.7,662.4 M268.7,668.5 L283.7,668.5" stroke="#8a8a0e" stroke-width="3.2" fill="none"/>
<path d="M325.6,661.5 L325.6,671.8 M318.1,661.5 L333.1,661.5 M318.1,671.8 L333.1,671.8" stroke="#8a8a0e" stroke-width="3.2" fill="none"/>
<path d="M375.1,627.6 L375.1,649.7 M367.6,627.6 L382.6,627.6 M367.6,649.7 L382.6,649.7" stroke="#8a8a0e" stroke-width="3.2" fill="none"/>
<path d="M424.5,674.3 L424.5,675.6 M417.0,674.3 L432.0,674.3 M417.0,675.6 L432.0,675.6" stroke="#8a8a0e" stroke-width="3.2" fill="none"/>
<path d="M98.2,417.3 L454.6,417.3 L454.6,679.0" fill="none" stroke="#333" stroke-width="1.3"/>
<path d="M98.2,417.3 L98.2,679.0 L454.6,679.0" fill="none" stroke="#333" stroke-width="1.5"/>
<rect x="95" y="580.2" width="8" height="4" fill="#fff"/>
<path d="M93.5,583.5 L102.5,579.3 M93.5,586.7 L102.5,582.5" stroke="#333" stroke-width="1.2"/>
<path d="M94.0,554.1 L98.2,554.1" stroke="#333" stroke-width="1.2"/>
<text x="92.8" y="560.7" font-size="18.6" fill="#111" text-anchor="end" font-weight="normal" textLength="26.0" lengthAdjust="spacingAndGlyphs" >10</text>
<path d="M94.0,520.6 L98.2,520.6" stroke="#333" stroke-width="1.2"/>
<text x="92.8" y="527.2" font-size="18.6" fill="#111" text-anchor="end" font-weight="normal" textLength="26.0" lengthAdjust="spacingAndGlyphs" >20</text>
<path d="M94.0,487.1 L98.2,487.1" stroke="#333" stroke-width="1.2"/>
<text x="92.8" y="493.7" font-size="18.6" fill="#111" text-anchor="end" font-weight="normal" textLength="26.0" lengthAdjust="spacingAndGlyphs" >30</text>
<path d="M94.0,453.6 L98.2,453.6" stroke="#333" stroke-width="1.2"/>
<text x="92.8" y="460.2" font-size="18.6" fill="#111" text-anchor="end" font-weight="normal" textLength="26.0" lengthAdjust="spacingAndGlyphs" >40</text>
<path d="M94.0,420.1 L98.2,420.1" stroke="#333" stroke-width="1.2"/>
<text x="92.8" y="426.7" font-size="18.6" fill="#111" text-anchor="end" font-weight="normal" textLength="26.0" lengthAdjust="spacingAndGlyphs" >50</text>
<path d="M95.8,570.9 L98.2,570.9" stroke="#333" stroke-width="1.2"/>
<path d="M95.8,537.4 L98.2,537.4" stroke="#333" stroke-width="1.2"/>
<path d="M95.8,503.9 L98.2,503.9" stroke="#333" stroke-width="1.2"/>
<path d="M95.8,470.4 L98.2,470.4" stroke="#333" stroke-width="1.2"/>
<path d="M95.8,436.9 L98.2,436.9" stroke="#333" stroke-width="1.2"/>
<path d="M94.0,678.9 L98.2,678.9" stroke="#333" stroke-width="1.2"/>
<text x="92.8" y="685.5" font-size="18.6" fill="#111" text-anchor="end" font-weight="normal" textLength="26.2" lengthAdjust="spacingAndGlyphs" >0.0</text>
<path d="M94.0,654.5 L98.2,654.5" stroke="#333" stroke-width="1.2"/>
<text x="92.8" y="661.1" font-size="18.6" fill="#111" text-anchor="end" font-weight="normal" textLength="26.2" lengthAdjust="spacingAndGlyphs" >0.3</text>
<path d="M94.0,630.2 L98.2,630.2" stroke="#333" stroke-width="1.2"/>
<text x="92.8" y="636.8" font-size="18.6" fill="#111" text-anchor="end" font-weight="normal" textLength="26.2" lengthAdjust="spacingAndGlyphs" >0.6</text>
<path d="M94.0,605.8 L98.2,605.8" stroke="#333" stroke-width="1.2"/>
<text x="92.8" y="612.4" font-size="18.6" fill="#111" text-anchor="end" font-weight="normal" textLength="26.2" lengthAdjust="spacingAndGlyphs" >0.9</text>
<path d="M95.8,666.7 L98.2,666.7" stroke="#333" stroke-width="1.2"/>
<path d="M95.8,642.4 L98.2,642.4" stroke="#333" stroke-width="1.2"/>
<path d="M95.8,618.0 L98.2,618.0" stroke="#333" stroke-width="1.2"/>
<path d="M95.8,593.6 L98.2,593.6" stroke="#333" stroke-width="1.2"/>
<path d="M127.8,679.0 L127.8,683.5" stroke="#333" stroke-width="1.2"/>
<path d="M177.2,679.0 L177.2,683.5" stroke="#333" stroke-width="1.2"/>
<path d="M226.7,679.0 L226.7,683.5" stroke="#333" stroke-width="1.2"/>
<path d="M276.2,679.0 L276.2,683.5" stroke="#333" stroke-width="1.2"/>
<path d="M325.6,679.0 L325.6,683.5" stroke="#333" stroke-width="1.2"/>
<path d="M375.1,679.0 L375.1,683.5" stroke="#333" stroke-width="1.2"/>
<path d="M424.5,679.0 L424.5,683.5" stroke="#333" stroke-width="1.2"/>
<text x="99.3" y="434.3" font-size="16.2" fill="#555" text-anchor="start" font-weight="normal" textLength="54.7" lengthAdjust="spacingAndGlyphs" >3.7E+01</text>
<text x="147.5" y="571.6" font-size="16.2" fill="#555" text-anchor="start" font-weight="normal" textLength="56.1" lengthAdjust="spacingAndGlyphs" >2.9E+00</text>
<text x="206.8" y="579.5" font-size="16.2" fill="#555" text-anchor="start" font-weight="normal" textLength="51.9" lengthAdjust="spacingAndGlyphs" >9.8E-01</text>
<text x="248.5" y="660.2" font-size="16.2" fill="#555" text-anchor="start" font-weight="normal" textLength="51.5" lengthAdjust="spacingAndGlyphs" >1.7E-01</text>
<text x="299.3" y="660.2" font-size="16.2" fill="#555" text-anchor="start" font-weight="normal" textLength="53.3" lengthAdjust="spacingAndGlyphs" >1.6E-01</text>
<text x="348.5" y="623.7" font-size="16.2" fill="#555" text-anchor="start" font-weight="normal" textLength="51.7" lengthAdjust="spacingAndGlyphs" >5.0E-01</text>
<text x="398.2" y="671.2" font-size="16.2" fill="#555" text-anchor="start" font-weight="normal" textLength="51.1" lengthAdjust="spacingAndGlyphs" >5.5E-02</text>
<path d="M168.8,464 L168.8,554.2" stroke="#666" stroke-width="1.7" stroke-dasharray="3.6,2.4"/>
<path d="M164.8,472 L168.8,464 L172.8,472 M164.8,546.2 L168.8,554.2 L172.8,546.2" fill="none" stroke="#666" stroke-width="1.1"/>
<path d="M221.9,464 L221.9,563.6" stroke="#666" stroke-width="1.7" stroke-dasharray="3.6,2.4"/>
<path d="M217.9,472 L221.9,464 L225.9,472 M217.9,555.6 L221.9,563.6 L225.9,555.6" fill="none" stroke="#666" stroke-width="1.1"/>
<path d="M274.7,464 L274.7,643.6" stroke="#666" stroke-width="1.7" stroke-dasharray="3.6,2.4"/>
<path d="M270.7,472 L274.7,464 L278.7,472 M270.7,635.6 L274.7,643.6 L278.7,635.6" fill="none" stroke="#666" stroke-width="1.1"/>
<path d="M324.3,464 L324.3,640.8" stroke="#666" stroke-width="1.7" stroke-dasharray="3.6,2.4"/>
<path d="M320.3,472 L324.3,464 L328.3,472 M320.3,632.8 L324.3,640.8 L328.3,632.8" fill="none" stroke="#666" stroke-width="1.1"/>
<path d="M374.7,464 L374.7,607.0" stroke="#666" stroke-width="1.7" stroke-dasharray="3.6,2.4"/>
<path d="M370.7,472 L374.7,464 L378.7,472 M370.7,599.0 L374.7,607.0 L378.7,599.0" fill="none" stroke="#666" stroke-width="1.1"/>
<path d="M424.9,464 L424.9,655.5" stroke="#666" stroke-width="1.7" stroke-dasharray="3.6,2.4"/>
<path d="M420.9,472 L424.9,464 L428.9,472 M420.9,647.5 L424.9,655.5 L428.9,647.5" fill="none" stroke="#666" stroke-width="1.1"/>
<text transform="translate(187.2,548.8) rotate(-90)" x="0" y="0" font-size="15.5" fill="#a58c2c" textLength="80.4" lengthAdjust="spacingAndGlyphs">12.73 times</text>
<text transform="translate(239.3,554.2) rotate(-90)" x="0" y="0" font-size="15.5" fill="#a58c2c" textLength="81.8" lengthAdjust="spacingAndGlyphs">37.98 times</text>
<text transform="translate(291.0,600.8) rotate(-90)" x="0" y="0" font-size="15.5" fill="#a58c2c" textLength="90.8" lengthAdjust="spacingAndGlyphs">215.62 times</text>
<text transform="translate(342.0,601.0) rotate(-90)" x="0" y="0" font-size="15.5" fill="#a58c2c" textLength="89.7" lengthAdjust="spacingAndGlyphs">237.75 times</text>
<text transform="translate(391.6,582.4) rotate(-90)" x="0" y="0" font-size="15.5" fill="#a58c2c" textLength="80.5" lengthAdjust="spacingAndGlyphs">74.65 times</text>
<text transform="translate(440.4,591.7) rotate(-90)" x="0" y="0" font-size="15.5" fill="#a58c2c" textLength="90.3" lengthAdjust="spacingAndGlyphs">679.44 times</text>
<text transform="translate(56.8,671.2) rotate(-90)" x="0" y="0" font-size="21" fill="#111" textLength="196.8" lengthAdjust="spacingAndGlyphs"><tspan font-style="italic">k</tspan><tspan font-size="14" dy="3.5">d</tspan><tspan dy="-3.5"> (min</tspan><tspan font-size="14" dy="-9">−1</tspan><tspan dy="9">•(g L</tspan><tspan font-size="14" dy="-9">−1</tspan><tspan dy="9">)</tspan><tspan font-size="14" dy="-9">−1</tspan><tspan dy="9">)</tspan></text>
<text transform="translate(146.0,696.0) rotate(-22)" x="0" y="0" text-anchor="end" fill="#111"><tspan dy="0" font-size="20">CoN</tspan><tspan dy="5" font-size="14">x</tspan><tspan dy="-5" font-size="20">-CNTs</tspan></text>
<text transform="translate(195.0,696.0) rotate(-22)" x="0" y="0" text-anchor="end" fill="#111"><tspan dy="0" font-size="20">N-CNTs</tspan></text>
<text transform="translate(244.0,696.0) rotate(-22)" x="0" y="0" text-anchor="end" fill="#111"><tspan dy="0" font-size="20">CoN</tspan><tspan dy="5" font-size="14">x</tspan></text>
<text transform="translate(294.0,697.0) rotate(-22)" x="0" y="0" text-anchor="end" fill="#111"><tspan dy="0" font-size="20">CNTs</tspan></text>
<text transform="translate(345.0,694.0) rotate(-22)" x="0" y="0" text-anchor="end" fill="#111"><tspan dy="0" font-size="20">cnCo</tspan><tspan dy="5" font-size="14">3</tspan><tspan dy="-5" font-size="20">O</tspan><tspan dy="5" font-size="14">4</tspan></text>
<text transform="translate(395.0,696.0) rotate(-22)" x="0" y="0" text-anchor="end" fill="#111"><tspan dy="0" font-size="20">β-MnO</tspan><tspan dy="5" font-size="14">2</tspan></text>
<text transform="translate(442.0,695.0) rotate(-22)" x="0" y="0" text-anchor="end" fill="#111"><tspan dy="0" font-size="20">cnFe</tspan><tspan dy="5" font-size="14">3</tspan><tspan dy="-5" font-size="20">O</tspan><tspan dy="5" font-size="14">4</tspan></text>
<path d="M844.6,547.1 L828.2,557.4 M844.6,547.1 L861.3,556.9 M828.2,557.4 L828.2,576.7 M861.3,556.9 L862.4,576.7 M828.2,576.7 L846.5,583.6 M862.4,576.7 L846.5,583.6 M862.4,576.7 L878.4,584.7 M846.5,583.6 L845.3,604.1 M878.4,584.7 L896.2,575.6 M878.4,584.7 L878.4,602.9 M896.2,575.6 L910.3,583.6 M845.3,604.1 L862.4,610.9 M845.3,604.1 L829.4,610.9 M878.4,602.9 L862.4,610.9 M878.4,602.9 L895.5,610.9 M862.4,610.9 L862.4,632.6 M829.4,610.9 L829.4,632.6 M895.5,610.9 L895.5,632.6 M829.4,632.6 L844.2,640.6 M844.2,640.6 L862.4,632.6 M844.2,640.6 L846.5,661.1 M862.4,632.6 L878.4,640.6 M878.4,640.6 L895.5,632.6 M878.4,640.6 L878.4,661.1 M846.5,661.1 L831.7,672.5 M846.5,661.1 L862.4,671.3 M878.4,661.1 L895.5,667.9 M878.4,661.1 L862.4,671.3 M895.5,667.9 L910.3,659.9 M831.7,672.5 L836.9,691.4 M862.4,671.3 L857.9,688.4 M836.9,691.4 L857.9,688.4 M939.6,584.3 L954.1,575.8 M954.1,575.8 L971.0,583.1 M971.0,583.1 L987.9,577.0 M971.0,583.1 L969.8,602.4 M987.9,577.0 L993.2,557.7 M987.9,577.0 L1004.3,586.7 M993.2,557.7 L1012.0,555.3 M1012.0,555.3 L1016.8,574.6 M1016.8,574.6 L1004.3,586.7 M1004.3,586.7 L1004.3,606.0 M969.8,602.4 L952.9,613.2 M969.8,602.4 L986.7,614.4 M952.9,613.2 L951.7,633.7 M986.7,614.4 L1004.3,606.0 M986.7,614.4 L984.3,634.2 M1004.3,606.0 L1018.8,616.8 M1018.8,616.8 L1018.0,634.9 M951.7,633.7 L967.4,643.4 M984.3,634.2 L967.4,643.4 M984.3,634.2 L1001.2,643.4 M1018.0,634.9 L1001.2,643.4 M967.4,643.4 L967.4,662.7 M1001.2,643.4 L1001.2,662.7 M936.0,660.2 L950.5,669.9 M950.5,669.9 L967.4,662.7 M967.4,662.7 L983.1,672.3 M1001.2,662.7 L983.1,672.3 M1001.2,662.7 L1015.6,673.5 M983.1,672.3 L984.3,690.4 M1015.6,673.5 L1015.6,690.4 M984.3,690.4 L999.9,700.8 M1015.6,690.4 L999.9,700.8 M910.3,583.6 L911.4,601.8 M939.6,584.3 L936.5,602.5 M910.3,659.9 L910.3,641.7 M936.0,660.2 L936.5,641.7" stroke="#989898" stroke-width="1.7" fill="none"/>
<path d="M923.3,623 L911.4,601.8 M923.3,623 L936.5,602.5 M923.3,623 L910.3,641.7 M923.3,623 L936.5,641.7" stroke="#9ab0d8" stroke-width="1.6" fill="none"/>
<path d="M919,571 C892,567 870,555 859,540 C851,529 843,519 838,512" fill="none" stroke="#cde4c0" stroke-width="5.2" stroke-linecap="round"/>
<path d="M838.6,534 L837,511 L858,522" fill="none" stroke="#cde4c0" stroke-width="6" stroke-linecap="round" stroke-linejoin="round"/>
<path d="M945.4,565.5 C970,551 987,533 987.5,495" fill="none" stroke="#cde4c0" stroke-width="5.2" stroke-linecap="round"/>
<path d="M974.5,509 L987.5,493 L997,511.5" fill="none" stroke="#cde4c0" stroke-width="6" stroke-linecap="round" stroke-linejoin="round"/>
<path d="M944.6,467.8 C946,474 950,477.4 958,477.4 L978,477.4 C983,477.4 986,482 986.4,487.9 C987,482 990,477.4 995,477.4 L1015,477.4 C1023,477.4 1027,474 1029,467.8" fill="none" stroke="#c4c4c4" stroke-width="3"/>
<circle cx="844.6" cy="547.1" r="6.2" fill="url(#gN)"/>
<circle cx="828.2" cy="557.4" r="6.0" fill="url(#gC)"/>
<circle cx="861.3" cy="556.9" r="6.0" fill="url(#gC)"/>
<circle cx="828.2" cy="576.7" r="6.0" fill="url(#gC)"/>
<circle cx="862.4" cy="576.7" r="6.0" fill="url(#gC)"/>
<circle cx="846.5" cy="583.6" r="6.0" fill="url(#gC)"/>
<circle cx="878.4" cy="584.7" r="6.0" fill="url(#gC)"/>
<circle cx="896.2" cy="575.6" r="6.0" fill="url(#gC)"/>
<circle cx="910.3" cy="583.6" r="6.0" fill="url(#gC)"/>
<circle cx="845.3" cy="604.1" r="6.0" fill="url(#gC)"/>
<circle cx="878.4" cy="602.9" r="6.0" fill="url(#gC)"/>
<circle cx="862.4" cy="610.9" r="6.2" fill="url(#gN)"/>
<circle cx="829.4" cy="610.9" r="6.0" fill="url(#gC)"/>
<circle cx="895.5" cy="610.9" r="6.0" fill="url(#gC)"/>
<circle cx="829.4" cy="632.6" r="6.0" fill="url(#gC)"/>
<circle cx="844.2" cy="640.6" r="6.0" fill="url(#gC)"/>
<circle cx="862.4" cy="632.6" r="6.0" fill="url(#gC)"/>
<circle cx="878.4" cy="640.6" r="6.0" fill="url(#gC)"/>
<circle cx="895.5" cy="632.6" r="6.0" fill="url(#gC)"/>
<circle cx="846.5" cy="661.1" r="6.0" fill="url(#gC)"/>
<circle cx="878.4" cy="661.1" r="6.0" fill="url(#gC)"/>
<circle cx="895.5" cy="667.9" r="6.0" fill="url(#gC)"/>
<circle cx="910.3" cy="659.9" r="6.0" fill="url(#gC)"/>
<circle cx="831.7" cy="672.5" r="6.0" fill="url(#gC)"/>
<circle cx="862.4" cy="671.3" r="6.0" fill="url(#gC)"/>
<circle cx="836.9" cy="691.4" r="6.2" fill="url(#gN)"/>
<circle cx="857.9" cy="688.4" r="6.0" fill="url(#gC)"/>
<circle cx="939.6" cy="584.3" r="6.0" fill="url(#gC)"/>
<circle cx="954.1" cy="575.8" r="6.0" fill="url(#gC)"/>
<circle cx="971.0" cy="583.1" r="6.0" fill="url(#gC)"/>
<circle cx="987.9" cy="577.0" r="6.0" fill="url(#gC)"/>
<circle cx="993.2" cy="557.7" r="6.0" fill="url(#gC)"/>
<circle cx="1012.0" cy="555.3" r="6.2" fill="url(#gN)"/>
<circle cx="1016.8" cy="574.6" r="6.0" fill="url(#gC)"/>
<circle cx="1004.3" cy="586.7" r="6.0" fill="url(#gC)"/>
<circle cx="969.8" cy="602.4" r="6.0" fill="url(#gC)"/>
<circle cx="952.9" cy="613.2" r="6.0" fill="url(#gC)"/>
<circle cx="986.7" cy="614.4" r="6.2" fill="url(#gN)"/>
<circle cx="1004.3" cy="606.0" r="6.0" fill="url(#gC)"/>
<circle cx="1018.8" cy="616.8" r="6.0" fill="url(#gC)"/>
<circle cx="951.7" cy="633.7" r="6.0" fill="url(#gC)"/>
<circle cx="984.3" cy="634.2" r="6.0" fill="url(#gC)"/>
<circle cx="1018.0" cy="634.9" r="6.0" fill="url(#gC)"/>
<circle cx="967.4" cy="643.4" r="6.0" fill="url(#gC)"/>
<circle cx="1001.2" cy="643.4" r="6.0" fill="url(#gC)"/>
<circle cx="936.0" cy="660.2" r="6.0" fill="url(#gC)"/>
<circle cx="950.5" cy="669.9" r="6.0" fill="url(#gC)"/>
<circle cx="967.4" cy="662.7" r="6.0" fill="url(#gC)"/>
<circle cx="1001.2" cy="662.7" r="6.0" fill="url(#gC)"/>
<circle cx="983.1" cy="672.3" r="6.0" fill="url(#gC)"/>
<circle cx="1015.6" cy="673.5" r="6.0" fill="url(#gC)"/>
<circle cx="984.3" cy="690.4" r="6.0" fill="url(#gC)"/>
<circle cx="1015.6" cy="690.4" r="6.0" fill="url(#gC)"/>
<circle cx="999.9" cy="700.8" r="6.2" fill="url(#gN)"/>
<circle cx="911.4" cy="601.8" r="6.2" fill="url(#gN)"/>
<circle cx="936.5" cy="602.5" r="6.2" fill="url(#gN)"/>
<circle cx="910.3" cy="641.7" r="6.2" fill="url(#gN)"/>
<circle cx="936.5" cy="641.7" r="6.2" fill="url(#gN)"/>
<circle cx="923.3" cy="623.0" r="5.6" fill="url(#gCo)"/>
<rect x="902.3" y="595" width="43.8" height="53.5" fill="none" stroke="#c9a030" stroke-width="1.3" stroke-dasharray="3,2"/>
<path d="M922.8,584 L923.2,617" stroke="#906080" stroke-width="1.6" stroke-dasharray="1.8,1.8"/>
<path d="M878.4,537.5 L886.2,551.5" stroke="#1890d0" stroke-width="2.5"/>
<path d="M886.2,551.5 L908,542.8" stroke="#e02020" stroke-width="3"/>
<path d="M908,542.8 L928.9,560.2" stroke="#e02020" stroke-width="3"/>
<path d="M928.9,560.2 L949.8,547.1" stroke="#e02020" stroke-width="3"/>
<path d="M928.9,560.2 L935,573.2" stroke="#e02020" stroke-width="3"/>
<path d="M928.9,560.2 L922.8,578.5" stroke="#e02020" stroke-width="3"/>
<circle cx="878.4" cy="537.5" r="3.4" fill="url(#gHb)"/>
<circle cx="886.2" cy="551.5" r="5.5" fill="url(#gO)"/>
<circle cx="908.0" cy="542.8" r="5.5" fill="url(#gO)"/>
<circle cx="949.8" cy="547.1" r="5.5" fill="url(#gO)"/>
<circle cx="935.0" cy="573.2" r="5.5" fill="url(#gO)"/>
<circle cx="922.8" cy="578.5" r="5.5" fill="url(#gO)"/>
<circle cx="928.9" cy="560.2" r="6.5" fill="url(#gS)"/>
<path d="M830.6,495 L839,479.3" stroke="#e02020" stroke-width="3"/>
<path d="M830.6,495 L812.9,486.7" stroke="#e02020" stroke-width="3"/>
<path d="M830.6,495 L824.2,508.4" stroke="#e02020" stroke-width="3"/>
<path d="M830.6,495 L846.8,504.9" stroke="#e02020" stroke-width="3"/>
<path d="M812.9,486.7 L802.4,500.2" stroke="#e02020" stroke-width="3"/>
<circle cx="839.0" cy="479.3" r="5" fill="url(#gO)"/>
<circle cx="812.9" cy="486.7" r="5" fill="url(#gO)"/>
<circle cx="802.4" cy="500.2" r="5" fill="url(#gO)"/>
<circle cx="824.2" cy="508.4" r="5" fill="url(#gO)"/>
<circle cx="846.8" cy="504.9" r="5" fill="url(#gO)"/>
<circle cx="830.6" cy="495.0" r="6" fill="url(#gS)"/>
<path d="M812.9,424.3 L826.8,426.6" stroke="#e02020" stroke-width="3"/>
<circle cx="812.9" cy="424.3" r="4.6" fill="url(#gO)"/>
<circle cx="826.8" cy="426.6" r="4.6" fill="url(#gO)"/>
<path d="M822.5,483.2 C814,472 812,460 815.5,450" fill="none" stroke="#c9a227" stroke-width="2.6"/>
<path d="M806.8,460.5 L815.5,449.2 L820.7,463.1" fill="none" stroke="#c9a227" stroke-width="2.6" stroke-linejoin="miter"/>
<path d="M1018,550.5 L1031.3,536" fill="none" stroke="#c9a227" stroke-width="2.6"/>
<path d="M1020,538 L1031.3,536 L1029,548" fill="none" stroke="#c9a227" stroke-width="2.6" stroke-linejoin="miter"/>
<path d="M992.7,614.4 C1005,614 1020,608 1027.7,596.3" fill="none" stroke="#c9a227" stroke-width="2.6"/>
<path d="M1016,598 L1027.7,596.3 L1027,608" fill="none" stroke="#c9a227" stroke-width="2.6" stroke-linejoin="miter"/>
<path d="M998.7,694 C996,675 1008,662 1025.3,655.4" fill="none" stroke="#c9a227" stroke-width="2.6"/>
<path d="M1013,655 L1025.3,655.4 L1020,667" fill="none" stroke="#c9a227" stroke-width="2.6" stroke-linejoin="miter"/>
<path d="M923.6,652 L923.6,706" fill="none" stroke="#c9a227" stroke-width="2.6"/>
<path d="M915,695 L923.6,707 L932,695" fill="none" stroke="#c9a227" stroke-width="2.6" stroke-linejoin="miter"/>
<rect x="866.1" y="436" width="106" height="23.6" fill="#f5c3f5"/>
<rect x="995.3" y="436.5" width="105.5" height="23.1" fill="#f5c3f5"/>
<text x="865.3" y="429.4" font-size="11" fill="#000" text-anchor="start" font-weight="bold" textLength="104.5" lengthAdjust="spacingAndGlyphs" >CoN<tspan font-size="7" dy="2">1</tspan><tspan dy="-2">-PMS complex</tspan></text>
<text x="996.8" y="429.4" font-size="11" fill="#000" text-anchor="start" font-weight="bold" textLength="103.0" lengthAdjust="spacingAndGlyphs" >Cobalt-oxo species</text>
<text x="878.3" y="452.1" font-size="12" fill="#2a1a2a" text-anchor="start" font-weight="bold" textLength="89.5" lengthAdjust="spacingAndGlyphs" >CoN<tspan font-size="8" dy="3">x</tspan><tspan dy="-3">−OOSO</tspan><tspan font-size="8" dy="3">3</tspan><tspan font-size="9" dy="-8">-</tspan></text>
<text x="1009.2" y="453.6" font-size="12" fill="#2a1a2a" text-anchor="start" font-weight="bold" textLength="75.0" lengthAdjust="spacingAndGlyphs" >Co(III)/Co(IV)</text>
<text x="914.9" y="512.3" font-size="12.5" fill="#000" text-anchor="start" font-weight="bold" textLength="28.0" lengthAdjust="spacingAndGlyphs" >PMS</text>
<text x="906.8" y="530.6" font-size="12.5" fill="#000" text-anchor="start" font-weight="bold" textLength="48.0" lengthAdjust="spacingAndGlyphs" >(HSO<tspan font-size="9" dy="3">5</tspan><tspan font-size="9" dy="-9">−</tspan><tspan dy="6">)</tspan></text>
<text x="799.5" y="525.9" font-size="12" fill="#000" text-anchor="start" font-weight="bold" textLength="33.0" lengthAdjust="spacingAndGlyphs" >SO<tspan font-size="9" dy="4">5</tspan><tspan font-size="9" dy="-8">•−</tspan></text>
<text x="808.0" y="444.8" font-size="12.5" fill="#000" text-anchor="start" font-weight="bold" ><tspan font-size="8" dy="-6">1</tspan><tspan dy="6">O</tspan><tspan font-size="9" dy="3">2</tspan></text>
<text x="1034.3" y="531.3" font-size="12" fill="#000" text-anchor="start" font-weight="bold" textLength="63.3" lengthAdjust="spacingAndGlyphs" >Pyrrolic N</text>
<text x="1022.8" y="591.1" font-size="12" fill="#000" text-anchor="start" font-weight="bold" textLength="75.4" lengthAdjust="spacingAndGlyphs" >Graphical N</text>
<text x="1027.0" y="651.8" font-size="12" fill="#000" text-anchor="start" font-weight="bold" textLength="69.0" lengthAdjust="spacingAndGlyphs" >Pyridinic N</text>
<text x="807.6" y="720.0" font-size="12.5" fill="#000" text-anchor="start" font-weight="bold" textLength="289.8" lengthAdjust="spacingAndGlyphs" >Conceptual Co-N coordination configuration</text>
<circle cx="1133.8" cy="479.4" r="9.2" fill="url(#gC)"/>
<text x="1148.2" y="487.0" font-size="22" fill="#000" font-weight="bold" textLength="16.6" lengthAdjust="spacingAndGlyphs" >C</text>
<circle cx="1133.8" cy="517.5" r="9.2" fill="url(#gH)"/>
<text x="1146.1" y="525.1" font-size="22" fill="#000" font-weight="bold" textLength="15.8" lengthAdjust="spacingAndGlyphs" >H</text>
<circle cx="1133.8" cy="563.5" r="9.2" fill="url(#gO)"/>
<text x="1146.1" y="571.1" font-size="22" fill="#000" font-weight="bold" textLength="17.7" lengthAdjust="spacingAndGlyphs" >O</text>
<circle cx="1133.8" cy="605.5" r="9.2" fill="url(#gN)"/>
<text x="1145.4" y="613.1" font-size="22" fill="#000" font-weight="bold" textLength="17.2" lengthAdjust="spacingAndGlyphs" >N</text>
<circle cx="1133.8" cy="641.6" r="9.2" fill="url(#gSo)"/>
<text x="1147.4" y="649.2" font-size="22" fill="#000" font-weight="bold" textLength="14.5" lengthAdjust="spacingAndGlyphs" >S</text>
<circle cx="1133.8" cy="680.3" r="9.2" fill="url(#gCo)"/>
<text x="1147.1" y="687.9" font-size="22" fill="#000" font-weight="bold" textLength="29.8" lengthAdjust="spacingAndGlyphs" >Co</text>
</svg></body></html>
